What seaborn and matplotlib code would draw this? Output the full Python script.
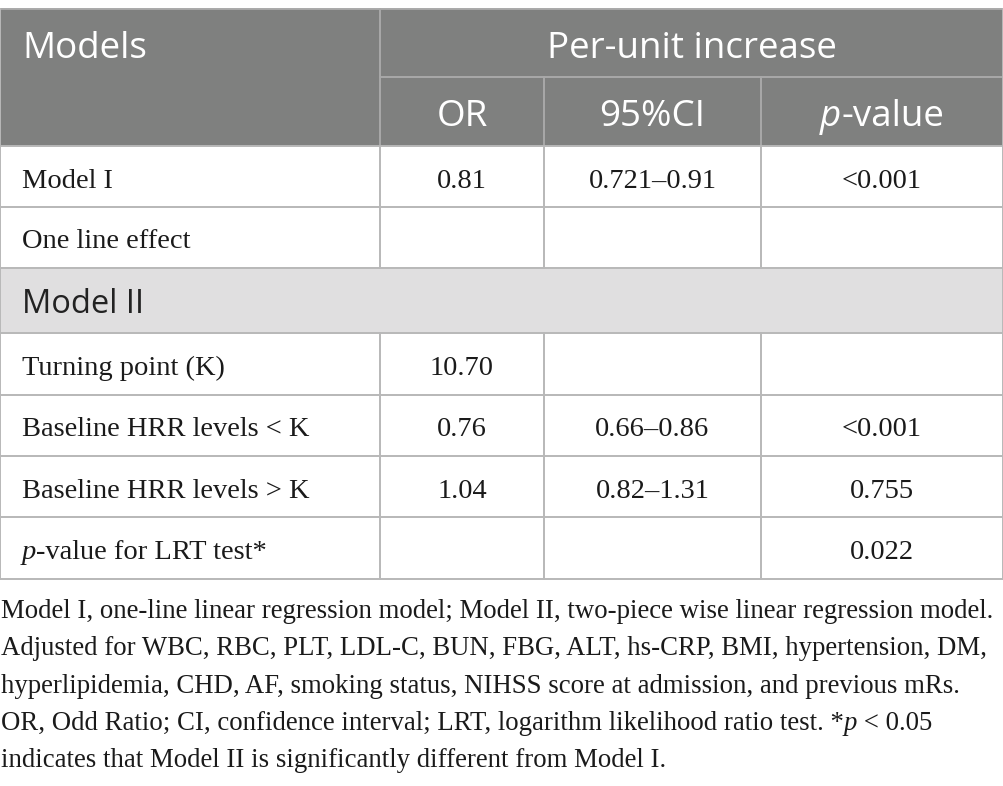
import matplotlib
matplotlib.use("Agg")
import matplotlib.pyplot as plt
import seaborn as sns
from matplotlib.patches import Rectangle

# Table content
header_top = "Models"
header_group = "Per-unit increase"
col_heads = ["OR", "95%CI", "p-value"]

row_labels = ["Model I", "One line effect", "Model II", "Turning point (K)",
              "Baseline HRR levels < K", "Baseline HRR levels > K",
              "p-value for LRT test*"]
or_vals = ["0.81", "", None, "10.70", "0.76", "1.04", ""]
ci_vals = ["0.721\u20130.91", "", None, "", "0.66\u20130.86", "0.82\u20131.31", ""]
p_vals = ["<0.001", "", None, "", "<0.001", "0.755", "0.022"]

footnote = [
    "Model I, one-line linear regression model; Model II, two-piece wise linear regression model.",
    "Adjusted for WBC, RBC, PLT, LDL-C, BUN, FBG, ALT, hs-CRP, BMI, hypertension, DM,",
    "hyperlipidemia, CHD, AF, smoking status, NIHSS score at admission, and previous mRs.",
    "OR, Odd Ratio; CI, confidence interval; LRT, logarithm likelihood ratio test. *p < 0.05",
    "indicates that Model II is significantly different from Model I.",
]

sns.set_theme(style="white")
plt.rcParams['font.family'] = ['Open Sans', 'DejaVu Sans']

HEAD_BG = "#7f807f"
SUB_BG = "#e0dfe0"
GRID = "#b8b8b8"
HEAD_LINE = "#a9a9a9"
INK = "#1a1a1a"
SANS = "Open Sans"
SERIF = "Liberation Serif"

# layout (pixel space)
col_x = [0, 380, 544, 761, 1003]
head_y = [9, 77, 146]
row_y = [146, 207, 268, 333, 395, 456, 517, 579]

fig = plt.figure(figsize=(10.04, 7.86), dpi=100)
ax = fig.add_axes([0, 0, 1, 1])
ax.set_xlim(0, 1004)
ax.set_ylim(786, 0)
ax.axis("off")

renderer = fig.canvas.get_renderer()


def runs(x, y, parts, ha="left", **kw):
    # one line built from pieces with different styles
    texts = []
    for s, props in parts:
        t = ax.text(x, y, s, ha="left", va="baseline", **kw, **props)
        texts.append(t)
    widths = [t.get_window_extent(renderer).width for t in texts]
    total = sum(widths)
    start = x - total / 2 if ha == "center" else x
    for t, w in zip(texts, widths):
        t.set_x(start)
        start += w
    return texts


# header background
ax.add_patch(Rectangle((0, head_y[0]), 1003, head_y[2] - head_y[0],
                       facecolor=HEAD_BG, edgecolor="none"))
# Model II band
ax.add_patch(Rectangle((0, row_y[2]), 1003, row_y[3] - row_y[2],
                       facecolor=SUB_BG, edgecolor="none"))

lw = 1.4
# header lines
ax.plot([col_x[1], col_x[4]], [head_y[1], head_y[1]], color=HEAD_LINE, lw=lw)
ax.plot([col_x[1], col_x[1]], [head_y[0], head_y[2]], color=HEAD_LINE, lw=lw)
for cx in col_x[2:4]:
    ax.plot([cx, cx], [head_y[1], head_y[2]], color=HEAD_LINE, lw=lw)
ax.plot([0, 1003], [head_y[0], head_y[0]], color=HEAD_LINE, lw=lw)

# body grid
for ry in row_y:
    ax.plot([0, 1003], [ry, ry], color=GRID, lw=lw)
for cx in [0, 1003]:
    ax.plot([cx, cx], [head_y[0], row_y[-1]], color=GRID, lw=lw)
for i in range(len(row_labels)):
    if or_vals[i] is None:
        continue
    for cx in col_x[1:4]:
        ax.plot([cx, cx], [row_y[i], row_y[i + 1]], color=GRID, lw=lw)

# header text
hsize = 26.5
ax.text(22, 58, header_top, color="white", fontsize=hsize, family=SANS,
        va="baseline")
ax.text((col_x[1] + col_x[4]) / 2, 58, header_group, color="white",
        fontsize=hsize, family=SANS, ha="center", va="baseline")
ax.text((col_x[1] + col_x[2]) / 2, 126, col_heads[0], color="white",
        fontsize=hsize, family=SANS, ha="center", va="baseline")
ax.text((col_x[2] + col_x[3]) / 2, 126, col_heads[1], color="white",
        fontsize=hsize, family=SANS, ha="center", va="baseline")
runs((col_x[3] + col_x[4]) / 2, 126,
     [("p", dict(style="italic")), ("-value", {})],
     ha="center", color="white", fontsize=hsize, family=SANS)

# body text
bsize = 20.5
for i, lab in enumerate(row_labels):
    mid = (row_y[i] + row_y[i + 1]) / 2
    if or_vals[i] is None:
        ax.text(22, mid + 12.5, lab, fontsize=23.5, family=SANS, color="#222222",
                va="baseline")
        continue
    base = mid + 11
    if lab.startswith("p-"):
        runs(22, base, [("p", dict(style="italic")), (lab[1:], {})],
             fontsize=bsize, family=SERIF, color=INK)
    else:
        ax.text(22, base, lab, fontsize=bsize, family=SERIF, color=INK,
                va="baseline")
    for vals, c0, c1 in [(or_vals, 1, 2), (ci_vals, 2, 3), (p_vals, 3, 4)]:
        if vals[i]:
            ax.text((col_x[c0] + col_x[c1]) / 2, base, vals[i], fontsize=bsize,
                    family=SERIF, color=INK, ha="center", va="baseline")

# footnote
fsize = 19.3
for k, line in enumerate(footnote):
    y = 618 + k * 37.3
    if "*p" in line:
        a, b = line.split("*p")
        runs(1, y, [(a + "*", {}), ("p", dict(style="italic")), (b, {})],
             fontsize=fsize, family=SERIF, color=INK)
    else:
        ax.text(1, y, line, fontsize=fsize, family=SERIF, color=INK,
                va="baseline")

fig.savefig("out.png", dpi=100)
